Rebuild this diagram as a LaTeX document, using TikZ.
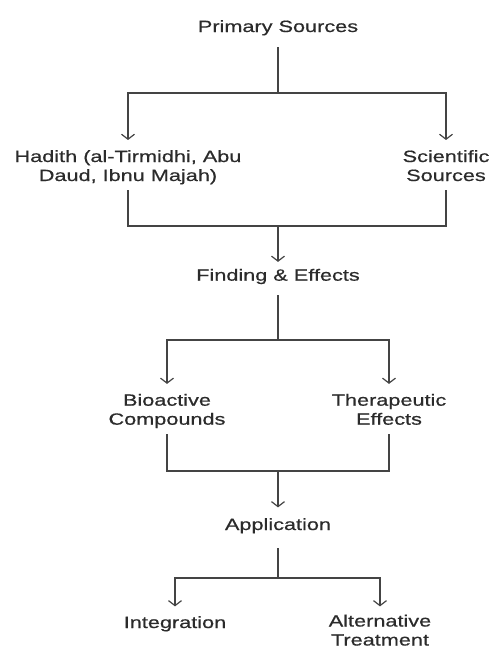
\documentclass[tikz,border=0pt]{standalone}
\usepackage{fontspec}
\setmainfont{Liberation Sans}[FakeStretch=1.33,FakeBold=0.6]
\usetikzlibrary{arrows.meta}
\definecolor{ink}{HTML}{2B2B2B}
\definecolor{wire}{HTML}{444444}
\begin{document}
\begin{tikzpicture}[x=1pt,y=-1pt,
  lbl/.style={font=\fontsize{16.3}{19}\selectfont, text=ink, align=center, inner sep=0pt, anchor=base},
  wireline/.style={draw=wire, line width=1.2pt},
  arr/.style={wireline, -{Straight Barb[length=5pt,width=13pt]}}]
\useasboundingbox (0,0) rectangle (489,648);
% nodes (anchor base = baseline of the last line)
\node[lbl] (ps)  at (278,32)    {Primary Sources};
\node[lbl] (hd)  at (128,181)   {Hadith (al-Tirmidhi, Abu\\Daud, Ibnu Majah)};
\node[lbl] (sc)  at (446,181)   {Scientific\\Sources};
\node[lbl] (fe)  at (278,280.7) {Finding \& Effects};
\node[lbl] (bio) at (167,424.7) {Bioactive\\Compounds};
\node[lbl] (th)  at (389,424.7) {Therapeutic\\Effects};
\node[lbl] (app) at (278,530)   {Application};
\node[lbl] (int) at (175,628)   {Integration};
\node[lbl] (alt) at (380,645.5) {Alternative\\Treatment};
% junctions
\coordinate (j1) at (278,93);
\coordinate (j2) at (278,226);
\coordinate (j3) at (278,340);
\coordinate (j4) at (278,471);
\coordinate (j5) at (278,578);
% connectors
\draw[wireline, shorten <=11.6pt] (ps) -- (j1);
\draw[arr, shorten >=10pt] (j1) -| (hd);
\draw[arr, shorten >=10pt] (j1) -| (sc);
\draw[wireline, shorten <=5.6pt] (hd) |- (j2);
\draw[wireline, shorten <=8.8pt] (sc) |- (j2);
\draw[arr, shorten >=6.8pt] (j2) -- (fe);
\draw[wireline, shorten <=10.9pt] (fe) -- (j3);
\draw[arr, shorten >=9.8pt] (j3) -| (bio);
\draw[arr, shorten >=9.8pt] (j3) -| (th);
\draw[wireline, shorten <=5.9pt] (bio) |- (j4);
\draw[wireline, shorten <=9.1pt] (th) |- (j4);
\draw[arr, shorten >=10.6pt] (j4) -- (app);
\draw[wireline, shorten <=14.6pt] (app) -- (j5);
\draw[arr, shorten >=9.6pt] (j5) -| (int);
\draw[arr, shorten >=8.1pt] (j5) -| (alt);
\end{tikzpicture}
\end{document}
